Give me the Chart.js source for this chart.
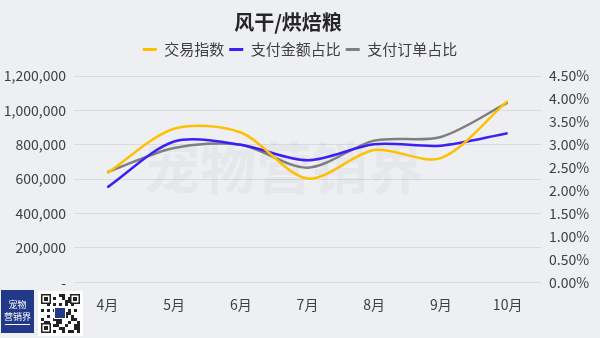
<!DOCTYPE html>
<html>
<head>
<meta charset="utf-8">
<script src="https://cdn.jsdelivr.net/npm/chart.js@4.4.1/dist/chart.umd.min.js"></script>
<style>
  html, body { margin: 0; padding: 0; background: #eeeff3; }
  #wrap { width: 600px; height: 338px; position: relative; }
</style>
</head>
<body>
<div id="wrap"><canvas id="canvas" width="600" height="338"></canvas></div>
<script>
const months = ['4月', '5月', '6月', '7月', '8月', '9月', '10月'];
const tradeIndex = [635000, 893000, 871000, 603000, 769000, 722000, 1055000];
const payAmountShare = [2.07, 3.07, 3.00, 2.66, 3.01, 2.98, 3.25];
const payOrderShare = [2.40, 2.93, 3.00, 2.50, 3.09, 3.17, 3.92];
const seriesNames = ['交易指数', '支付金额占比', '支付订单占比'];
const chartTitle = '风干/烘焙粮';

const fontFamily = '"Noto Sans CJK SC", "Noto Sans", sans-serif';

// watermark, title (drawn a bit left of centre like the original) and logo
const decor = {
    id: 'decor',
    beforeDatasetsDraw(chart) {
        const ctx = chart.ctx;
        ctx.save();
        ctx.fillStyle = 'rgba(120,125,140,0.07)';
        ctx.font = 'bold 56px ' + fontFamily;
        ctx.textAlign = 'center';
        ctx.textBaseline = 'middle';
        ctx.fillText('宠物营销界', 284, 168);
        ctx.restore();
    },
    afterDraw(chart) {
        const ctx = chart.ctx;
        ctx.save();
        ctx.fillStyle = '#262626';
        ctx.font = 'bold 20px ' + fontFamily;
        ctx.textAlign = 'center';
        ctx.textBaseline = 'middle';
        ctx.fillText(chartTitle, 288, 22);

        // blue logo box
        ctx.fillStyle = '#22398a';
        ctx.fillRect(1, 290, 33, 43);
        ctx.fillStyle = '#ffffff';
        ctx.font = '9px ' + fontFamily;
        ctx.fillText('宠物', 17.5, 305);
        ctx.fillText('营销界', 17.5, 317);
        ctx.fillRect(5, 324, 25, 1);
        // qr-ish box
        ctx.fillRect(38, 291, 45, 45);
        ctx.fillStyle = '#222';
        const cell = 3;
        for (let r = 0; r < 13; r++) {
            for (let c = 0; c < 13; c++) {
                const h = (r * 7 + c * 13 + r * c * 5) % 11;
                if (h < 5) ctx.fillRect(41 + c * cell, 294 + r * cell, cell, cell);
            }
        }
        const finder = (x, y) => {
            ctx.fillStyle = '#222'; ctx.fillRect(x, y, 10, 10);
            ctx.fillStyle = '#fff'; ctx.fillRect(x + 1.5, y + 1.5, 7, 7);
            ctx.fillStyle = '#222'; ctx.fillRect(x + 3, y + 3, 4, 4);
        };
        finder(41, 294); finder(70, 294); finder(41, 323);
        ctx.fillStyle = '#fff';
        ctx.fillRect(54, 307, 12, 12);
        ctx.fillStyle = '#22398a';
        ctx.fillRect(55, 308, 10, 10);
        ctx.restore();
    }
};

const ctx = document.getElementById('canvas').getContext('2d');
const myChart = new Chart(ctx, {
    type: 'line',
    data: {
        labels: months,
        datasets: [{
            label: seriesNames[0],
            data: tradeIndex,
            borderColor: '#ffc000',
            backgroundColor: '#ffc000',
            yAxisID: 'y'
        }, {
            label: seriesNames[1],
            data: payAmountShare,
            borderColor: '#3d1ff5',
            backgroundColor: '#3d1ff5',
            yAxisID: 'y1'
        }, {
            label: seriesNames[2],
            data: payOrderShare,
            borderColor: '#7f7f7f',
            backgroundColor: '#7f7f7f',
            yAxisID: 'y1'
        }]
    },
    options: {
        responsive: false,
        animation: false,
        layout: { padding: { top: 0, bottom: 11, left: 0, right: 0 } },
        elements: {
            line: { borderWidth: 2.5, tension: 0.3, fill: false },
            point: { radius: 0 }
        },
        plugins: {
            title: {
                display: true,
                text: ' ',
                font: { family: fontFamily, size: 20, weight: 'bold' },
                padding: { top: 10, bottom: 3 }
            },
            legend: {
                labels: {
                    color: '#404040',
                    font: { family: fontFamily, size: 15 },
                    boxWidth: 14,
                    boxHeight: 3,
                    padding: 5,
                    generateLabels(chart) {
                        const items = Chart.defaults.plugins.legend.labels.generateLabels(chart);
                        items.forEach(it => { it.lineWidth = 0; });
                        return items;
                    }
                }
            },
            tooltip: { enabled: false }
        },
        scales: {
            x: {
                offset: true,
                grid: { display: false, drawTicks: false },
                border: { display: false },
                ticks: {
                    color: '#404040',
                    font: { family: fontFamily, size: 14 },
                    padding: 14
                }
            },
            y: {
                position: 'left',
                min: 0,
                max: 1200000,
                afterFit(axis) { axis.width = 74; },
                grid: { color: '#d9dade', lineWidth: 1, drawTicks: false },
                border: { display: false },
                ticks: {
                    stepSize: 200000,
                    padding: 8,
                    color: '#404040',
                    font: { family: fontFamily, size: 14 },
                    callback: v => v === 0 ? '-' : v.toLocaleString('en-US')
                }
            },
            y1: {
                position: 'right',
                min: 0,
                max: 4.5,
                afterFit(axis) { axis.width = 59; },
                grid: { drawOnChartArea: false, drawTicks: false },
                border: { display: false },
                ticks: {
                    stepSize: 0.5,
                    padding: 8,
                    color: '#404040',
                    font: { family: fontFamily, size: 14 },
                    callback: v => v.toFixed(2) + '%'
                }
            }
        }
    },
    plugins: [decor]
});

// leave a little more room under the legend, like the original
const legendFit = myChart.legend.fit;
myChart.legend.fit = function () {
    legendFit.call(this);
    this.height += 9;
};
myChart.update();
</script>
</body>
</html>
